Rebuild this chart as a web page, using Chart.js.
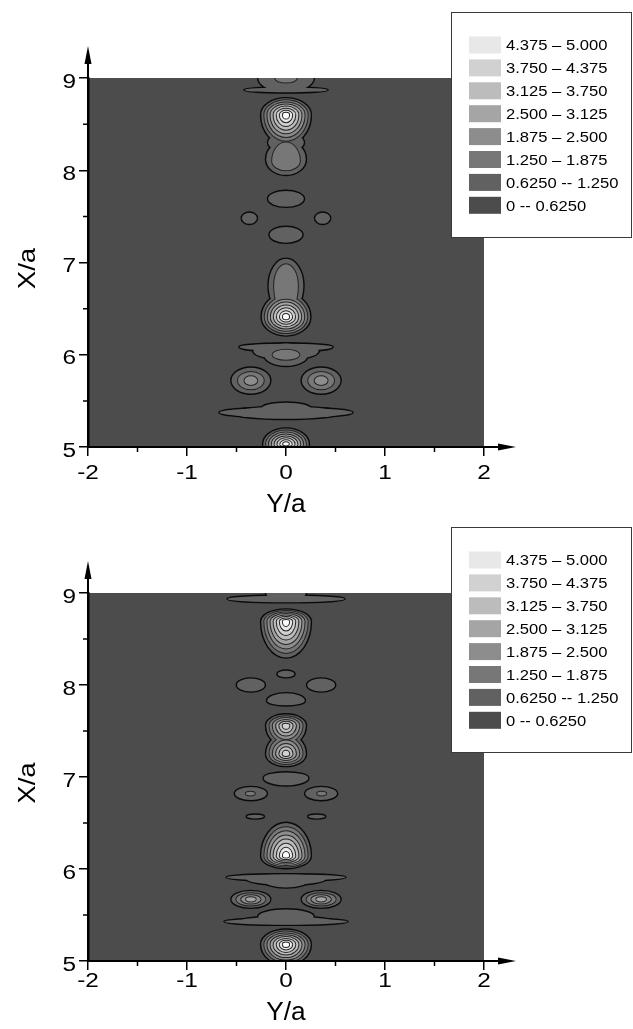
<!DOCTYPE html>
<html><head><meta charset="utf-8">
<script src="https://cdn.jsdelivr.net/npm/chart.js@4"></script>
<style>
html,body{margin:0;padding:0;background:#fff;overflow:hidden;width:633px;height:1029px}
.w{position:absolute;left:0;width:633px}
canvas{display:block}
</style></head><body>
<div class="w" style="top:0;height:515px"><canvas id="c1" width="633" height="515"></canvas></div>
<div class="w" style="top:515px;height:514px"><canvas id="c2" width="633" height="514"></canvas></div>
<script>
// ---- tick labels / legend ----
const xTickValues = [-2, -1, 0, 1, 2];
const yTickValues = [5, 6, 7, 8, 9];
const xMinorValues = [-1.5, -0.5, 0.5, 1.5];
const yMinorValues = [5.5, 6.5, 7.5, 8.5];
const xTitle = 'Y/a';
const yTitle = 'X/a';
const levelLabels = ['4.375 \u2013 5.000', '3.750 \u2013 4.375', '3.125 \u2013 3.750', '2.500 \u2013 3.125',
  '1.875 \u2013 2.500', '1.250 \u2013 1.875', '0.6250 -- 1.250', '0 -- 0.6250'];
const levelColors = ['#4c4c4c', '#616161', '#777777', '#8d8d8d', '#a5a5a5', '#bcbcbc', '#d1d1d1', '#e8e8e8', '#ffffff'];

// ---- top map: contour features
// peak Y/a, peak X/a, half-width, extent up, extent down, first level, number of nested levels
const topY    = [0,    0,    0,    0,    0,    0,    0,    0,    -0.37, 0.37, 0,    0,    0,    0,    0,     0,    0,    0,    -0.355, 0.355, 0,    0,    0,     0];
const topX    = [8.87, 9.0,  9.0,  8.60, 8.30, 8.12, 8.10, 7.69, 7.48,  7.48, 7.30, 6.75, 6.75, 6.41, 6.085, 6.04, 6.0,  6.0,  5.72,   5.72,  5.375,5.37, 5.415, 5.03];
const topRY   = [0.42, 0.28, 0.11, 0.25, 0.18, 0.20, 0.14, 0.18, 0.075, 0.075,0.165,0.175,0.12, 0.245,0.47,  0.33, 0.22, 0.135,0.195,  0.195, 0.67, 0.55, 0.25,  0.23];
const topUp   = [0.025,0.05, 0.05, 0.18, 0.10, 0.20, 0.20, 0.085,0.06,  0.06, 0.085,0.29, 0.23, 0.25, 0.035, 0.08, 0.12, 0.055,0.14,   0.14,  0.05, 0.065,0.065, 0.17];
const topDown = [0.025,0.15, 0.05, 0.32, 0.10, 0.17, 0.10, 0.085,0.06,  0.06, 0.085,0.30, 0.30, 0.20, 0.045, 0.09, 0.12, 0.055,0.14,   0.14,  0.05, 0.065,0.065, 0.10];
const topBase = [1,    1,    2,    1,    1,    1,    2,    1,    1,     1,    1,    1,    2,    1,    1,     1,    1,    2,    1,      1,     1,    1,    1,     1];
const topN    = [1,    1,    1,    8,    1,    1,    1,    1,    1,     1,    1,    1,    1,    8,    1,     1,    1,    1,    3,      3,     1,    1,    1,     8];

// ---- bottom map
const botY    = [0,     0,    0,    0,     -0.355, 0.355, 0,    0,    0,    0,    -0.355, 0.355, -0.36, 0.36, -0.31, 0.31, 0,    0,    0,    0,    -0.355, 0.355, 0,    0,    0,    0];
const botX    = [8.935, 9.0,  8.69, 8.12,  8.0,    8.0,   7.83, 7.56, 7.25, 6.99, 6.82,   6.82,  6.82,  6.82, 6.57,  6.57, 6.14, 5.91, 5.89, 5.87, 5.67,   5.67,  5.43, 5.44, 5.48, 5.18];
const botRY   = [0.59,  0.2,  0.25, 0.085, 0.14,   0.14,  0.19, 0.2,  0.2,  0.225,0.16,   0.16,  0.045, 0.045,0.085, 0.085,0.25, 0.60, 0.40, 0.22, 0.195,  0.195, 0.62, 0.45, 0.28, 0.25];
const botUp   = [0.035, 0.05, 0.13, 0.035, 0.07,   0.07,  0.08, 0.12, 0.22, 0.06, 0.07,   0.07,  0.02,  0.02, 0.02,  0.02, 0.36, 0.03, 0.05, 0.06, 0.09,   0.09,  0.03, 0.04, 0.08, 0.16];
const botDown = [0.035, 0.09, 0.39, 0.035, 0.07,   0.07,  0.05, 0.22, 0.13, 0.08, 0.07,   0.07,  0.02,  0.02, 0.02,  0.02, 0.13, 0.035,0.06, 0.07, 0.09,   0.09,  0.035,0.04, 0.06, 0.22];
const botBase = [1,     1,    1,    1,     1,      1,     1,    1,    1,    1,    1,      1,     2,     2,    1,     1,    1,    1,    1,    1,    1,      1,     1,    1,    1,    1];
const botN    = [1,     1,    8,    1,     1,      1,     1,    6,    6,    1,    1,      1,     1,     1,    1,     1,    8,    1,    1,    1,    4,      4,     1,    1,    1,    8];

const FONT = '"Liberation Sans", Arial, sans-serif';

function wideText(ctx, str, x, y, size, sx, align, rot) {
  ctx.save();
  ctx.translate(x, y);
  if (rot) ctx.rotate(rot);
  ctx.scale(sx, 1);
  ctx.font = size + 'px ' + FONT;
  ctx.textAlign = align;
  ctx.textBaseline = 'middle';
  ctx.fillStyle = '#000';
  ctx.fillText(str, 0, 0);
  ctx.restore();
}

function contourPlugin(F, lab) {
  return {
    id: 'contour',
    beforeDraw(chart) {
      const { ctx, chartArea: a, scales: { x, y } } = chart;
      ctx.save();
      ctx.fillStyle = levelColors[0];
      ctx.fillRect(a.left, a.top, a.right - a.left, a.bottom - a.top);
      ctx.beginPath();
      ctx.rect(a.left, a.top, a.right - a.left, a.bottom - a.top);
      ctx.clip();
      for (let L = 1; L <= 8; L++) {
        const paths = [];
        for (let i = 0; i < F.Y.length; i++) {
          const k = L - F.base[i];
          if (k < 0 || k >= F.n[i]) continue;
          const s = (F.n[i] - k) / F.n[i];
          const cx = x.getPixelForValue(F.Y[i]), cy = y.getPixelForValue(F.X[i]);
          const rx = Math.abs(x.getPixelForValue(F.Y[i] + F.rY[i] * s) - cx);
          const ru = Math.abs(y.getPixelForValue(F.X[i] + F.up[i] * s) - cy);
          const rd = Math.abs(y.getPixelForValue(F.X[i] - F.down[i] * s) - cy);
          const p = new Path2D();
          p.ellipse(cx, cy, rx, rd, 0, 0, Math.PI);
          p.ellipse(cx, cy, rx, ru, 0, Math.PI, 2 * Math.PI);
          p.closePath();
          paths.push(p);
        }
        ctx.strokeStyle = L === 1 ? '#0a0a0a' : '#242424';
        ctx.lineWidth = L === 1 ? 2.8 : 2;
        paths.forEach(p => ctx.stroke(p));
        ctx.fillStyle = levelColors[L];
        paths.forEach(p => ctx.fill(p));
      }
      ctx.restore();
    },
    afterDraw(chart) {
      const { ctx, chartArea: a, scales: { x, y } } = chart;
      ctx.save();
      ctx.strokeStyle = '#000';
      ctx.fillStyle = '#000';
      ctx.lineWidth = 2;
      // axis extensions with arrows
      ctx.beginPath();
      ctx.moveTo(a.left, a.top); ctx.lineTo(a.left, a.top - 24);
      ctx.moveTo(a.right, a.bottom); ctx.lineTo(a.right + 24, a.bottom);
      ctx.stroke();
      ctx.beginPath();
      ctx.moveTo(a.left, a.top - 32); ctx.lineTo(a.left - 3.5, a.top - 14); ctx.lineTo(a.left + 3.5, a.top - 14); ctx.closePath();
      ctx.fill();
      ctx.beginPath();
      ctx.moveTo(a.right + 32, a.bottom); ctx.lineTo(a.right + 14, a.bottom - 3.5); ctx.lineTo(a.right + 14, a.bottom + 3.5); ctx.closePath();
      ctx.fill();
      // minor ticks
      ctx.lineWidth = 1.5;
      ctx.beginPath();
      xMinorValues.forEach(v => { const px = x.getPixelForValue(v); ctx.moveTo(px, a.bottom); ctx.lineTo(px, a.bottom + 5); });
      yMinorValues.forEach(v => { const py = y.getPixelForValue(v); ctx.moveTo(a.left - 5, py); ctx.lineTo(a.left, py); });
      ctx.stroke();
      // tick labels and axis titles (wide face as in the original figure)
      yTickValues.forEach(v => wideText(ctx, String(v), a.left - 12, y.getPixelForValue(v) + 4, 20, 1.22, 'right'));
      xTickValues.forEach(v => wideText(ctx, String(v), x.getPixelForValue(v), a.bottom + lab.tick, 20, 1.22, 'center'));
      wideText(ctx, xTitle, (a.left + a.right) / 2, a.bottom + lab.title, 25, 1.05, 'center');
      wideText(ctx, yTitle, 28, (a.top + a.bottom) / 2 + 6, 24, 1.15, 'center', -Math.PI / 2);
      // legend
      const lx = 451, ly = 12, lw = 181, lh = 226;
      ctx.fillStyle = '#fff';
      ctx.fillRect(lx, ly, lw, lh);
      ctx.strokeStyle = '#3a3a3a';
      ctx.lineWidth = 1;
      ctx.strokeRect(lx + 0.5, ly + 0.5, lw - 1, lh - 1);
      levelLabels.forEach((t, i) => {
        const yc = 45 + 22.9 * i;
        ctx.fillStyle = levelColors[7 - i];
        ctx.fillRect(469, yc - 8.5, 32, 17);
        wideText(ctx, t, 506, yc + 1, 15.5, 1.07, 'left');
      });
      ctx.restore();
    }
  };
}

function makeChart(id, F, lab) {
  return new Chart(document.getElementById(id), {
    type: 'scatter',
    data: { datasets: [{ data: F.Y.map((v, i) => ({ x: v, y: F.X[i] })), pointRadius: 0, showLine: false }] },
    options: {
      responsive: false,
      animation: false,
      devicePixelRatio: 1,
      events: [],
      layout: { padding: { left: 0, right: 149, top: 78, bottom: 0 } },
      plugins: { legend: { display: false }, tooltip: { enabled: false } },
      scales: {
        x: {
          type: 'linear', min: -2, max: 2,
          afterBuildTicks: s => { s.ticks = xTickValues.map(v => ({ value: v })); },
          afterFit: s => { s.height = 68; },
          ticks: { display: false },
          grid: { display: true, drawOnChartArea: false, color: '#000', lineWidth: 1.5, tickLength: 9 },
          border: { display: true, color: '#000', width: 2 }
        },
        y: {
          type: 'linear', min: 5, max: 9,
          afterBuildTicks: s => { s.ticks = yTickValues.map(v => ({ value: v })); },
          afterFit: s => { s.width = 88; },
          ticks: { display: false },
          grid: { display: true, drawOnChartArea: false, color: '#000', lineWidth: 1.5, tickLength: 9 },
          border: { display: true, color: '#000', width: 2.5 }
        }
      }
    },
    plugins: [contourPlugin(F, lab)]
  });
}

makeChart('c1', { Y: topY, X: topX, rY: topRY, up: topUp, down: topDown, base: topBase, n: topN }, { tick: 26, title: 58 });
makeChart('c2', { Y: botY, X: botX, rY: botRY, up: botUp, down: botDown, base: botBase, n: botN }, { tick: 20, title: 52 });
</script>
</body></html>
